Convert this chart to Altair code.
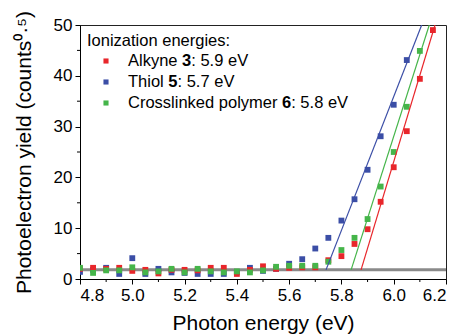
import altair as alt
import pandas as pd

energy = [4.80, 4.85, 4.90, 4.95, 5.00, 5.05, 5.10, 5.15, 5.20, 5.25, 5.30, 5.35,
          5.40, 5.45, 5.50, 5.55, 5.60, 5.65, 5.70, 5.75, 5.80, 5.85, 5.90, 5.95,
          6.00, 6.05, 6.10, 6.15]

thiol = [1.4, 1.8, 2.2, 1.0, 4.1, 1.0, 2.0, 1.3, 1.2, 1.0, 1.0, 1.0,
         1.3, 2.2, 1.6, 2.0, 3.0, 3.9, 6.0, 8.1, 11.5, 15.7, 21.5, 28.1,
         34.3, 43.1, None, None]
alkyne = [2.0, 2.2, 2.0, 2.2, 1.6, 1.8, 1.1, 1.8, 1.8, 1.7, 2.2, 2.2,
          1.0, 1.8, 2.5, 2.0, 2.2, 2.3, 2.3, 3.7, 4.5, 6.9, 9.8, 15.2,
          22.0, 29.1, 39.4, 49.0]
polymer = [2.2, 1.2, 1.7, 1.7, 2.3, 1.3, 1.5, 2.0, 1.3, 2.0, 1.5, 1.3,
           1.5, 1.3, 1.7, 2.4, 2.6, 2.6, 2.6, 3.4, 5.7, 8.1, 11.8, 18.2,
           25.0, 33.9, 44.9, None]

series_names = ["Thiol", "Alkyne", "Polymer"]
series_colors = ["#3b4ea6", "#e8262b", "#45b54a"]

# linear fits: (start energy, start yield) -> (end energy, end yield)
fit_x0 = [5.741, 5.875, 5.837]
fit_x1 = [6.107, 6.158, 6.136]
fit_y0 = [1.8, 1.8, 1.8]
fit_y1 = [50.0, 50.0, 50.0]

baseline_level = 1.8

x_major = [4.8, 5.0, 5.2, 5.4, 5.6, 5.8, 6.0, 6.2]
x_minor = [4.9, 5.1, 5.3, 5.5, 5.7, 5.9, 6.1]
y_major = [0, 10, 20, 30, 40, 50]
y_minor = [5, 15, 25, 35, 45]

legend_title = "Ionization energies:"
legend_rows = [
    ("Alkyne ", "3", ": 5.9 eV", "#e8262b"),
    ("Thiol ", "5", ": 5.7 eV", "#3b4ea6"),
    ("Crosslinked polymer ", "6", ": 5.8 eV", "#45b54a"),
]

rows = []
for name, vals in zip(series_names, [thiol, alkyne, polymer]):
    for e, v in zip(energy, vals):
        if v is not None:
            rows.append({"energy": e, "yield": v, "series": name})
pts = pd.DataFrame(rows)

fit_rows = []
for name, a, b, c, d in zip(series_names, fit_x0, fit_x1, fit_y0, fit_y1):
    fit_rows.append({"energy": a, "yield": c, "series": name})
    fit_rows.append({"energy": b, "yield": d, "series": name})
fits = pd.DataFrame(fit_rows)

W, H = 366, 254
FONT = "Liberation Sans"

xscale = alt.Scale(domain=[4.8, 6.2], nice=False, zero=False)
yscale = alt.Scale(domain=[0, 50], nice=False)
cscale = alt.Scale(domain=series_names, range=series_colors)

xaxis = alt.Axis(values=x_major, format=".1f", title="Photon energy (eV)",
                 tickSize=5, labelPadding=3, grid=False, titlePadding=9)
yaxis = alt.Axis(values=y_major, format="d", title="Photoelectron yield (counts⁰·⁵)",
                 tickSize=5, labelPadding=3, grid=False, titlePadding=19)

base_rule = alt.Chart(pd.DataFrame({"level": [baseline_level]})).mark_rule(
    color="#8a8a8a", strokeWidth=3
).encode(y=alt.Y("level:Q", scale=yscale, axis=yaxis))

squares = alt.Chart(pts).mark_square(size=34, opacity=1, clip=True).encode(
    x=alt.X("energy:Q", scale=xscale, axis=xaxis),
    y=alt.Y("yield:Q", scale=yscale, axis=yaxis),
    color=alt.Color("series:N", scale=cscale, legend=None),
)

lines = alt.Chart(fits).mark_line(strokeWidth=1.2, clip=True).encode(
    x=alt.X("energy:Q", scale=xscale),
    y=alt.Y("yield:Q", scale=yscale),
    color=alt.Color("series:N", scale=cscale, legend=None),
    detail="series:N",
)

xminor_ticks = alt.Chart(pd.DataFrame({"v": x_minor})).mark_rule(
    color="black", strokeWidth=1, clip=False
).encode(x=alt.X("v:Q", scale=xscale), y=alt.value(H), y2=alt.value(H + 3))

yminor_ticks = alt.Chart(pd.DataFrame({"v": y_minor})).mark_rule(
    color="black", strokeWidth=1, clip=False
).encode(y=alt.Y("v:Q", scale=yscale), x=alt.value(0), x2=alt.value(-3))

# manual legend
def text_width(s, bold=False):
    w = {"A": .667, "l": .222, "k": .5, "y": .5, "n": .556, "e": .556, " ": .278,
         "T": .611, "h": .556, "i": .222, "o": .556, "C": .722, "r": .333, "s": .5,
         "d": .556, "p": .556, "m": .833, ":": .278, ".": .278, "V": .667}
    return sum(w.get(ch, .556) for ch in s)

LFS = 16.5
leg_layers = []
leg_layers.append(
    alt.Chart(pd.DataFrame({"t": [legend_title]})).mark_text(
        align="left", baseline="middle", fontSize=LFS, font=FONT, color="black"
    ).encode(text="t:N", x=alt.value(7), y=alt.value(16))
)
row_y = [36, 57, 78]
tx0 = 48
for (pre, bold, post, col), ry in zip(legend_rows, row_y):
    leg_layers.append(
        alt.Chart(pd.DataFrame({"t": [pre]})).mark_square(size=26, color=col, opacity=1).encode(
            x=alt.value(26), y=alt.value(ry))
    )
    w1 = text_width(pre) * LFS
    w2 = text_width(bold) * LFS
    for txt, xx, wt in [(pre, tx0, "normal"), (bold, tx0 + w1, "bold"), (post, tx0 + w1 + w2, "normal")]:
        leg_layers.append(
            alt.Chart(pd.DataFrame({"t": [txt]})).mark_text(
                align="left", baseline="middle", fontSize=LFS, font=FONT,
                color="black", fontWeight=wt
            ).encode(text="t:N", x=alt.value(xx), y=alt.value(ry))
        )

chart = alt.layer(
    base_rule, squares, lines, xminor_ticks, yminor_ticks, *leg_layers
).properties(
    width=W, height=H,
    autosize=alt.AutoSizeParams(type="none"),
    padding={"left": 80, "top": 25, "right": 13, "bottom": 56},
).configure_view(
    stroke="#222222", strokeWidth=1
).configure_axis(
    labelFont=FONT, labelFontSize=17, labelColor="black",
    titleFont=FONT, titleFontSize=21, titleColor="black", titleFontWeight="normal",
    domainColor="black", tickColor="black",
)

chart.save("out.html", embed_options={"renderer": "svg", "actions": False})
